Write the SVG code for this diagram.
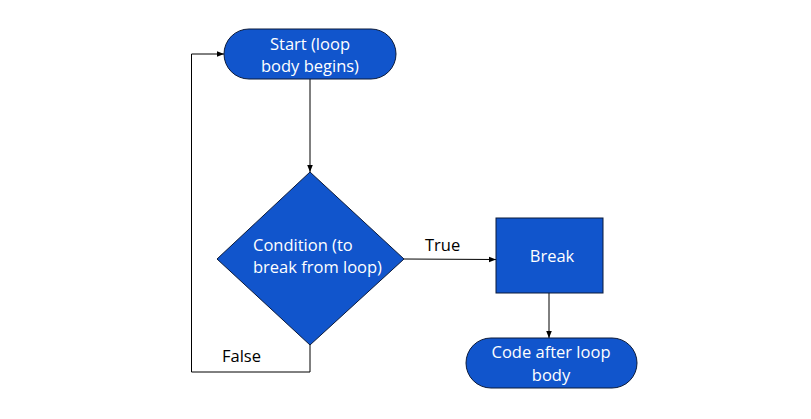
<svg xmlns="http://www.w3.org/2000/svg" width="811" height="419" viewBox="0 0 811 419">
<style>
.shape{fill:#1155cc;stroke:#0b1a3a;stroke-width:1}
.lbl{font-family:"Open Sans","Liberation Sans",sans-serif;font-size:16.5px;fill:#ffffff}
.edge{fill:none;stroke:#000000;stroke-width:1}
.elbl{font-family:"Open Sans","Liberation Sans",sans-serif;font-size:16.5px;fill:#000000}
</style>
<defs>
<marker id="arr" viewBox="0 0 10 10" refX="10" refY="5" markerWidth="7" markerHeight="7" orient="auto" markerUnits="userSpaceOnUse">
<path d="M0,1 L10,5 L0,9 Z" fill="#000000"/>
</marker>
</defs>
<rect width="811" height="419" fill="#ffffff"/>
<g id="connectors">
<path class="edge" d="M310,79 V172" marker-end="url(#arr)"/>
<path class="edge" d="M404,259 L496,259.5" marker-end="url(#arr)"/>
<path class="edge" d="M549,293 V338" marker-end="url(#arr)"/>
<path class="edge" d="M310,345 V372 H191.5 V54 H224" marker-end="url(#arr)"/>
<text class="elbl" x="425" y="251">True</text>
<text class="elbl" x="222" y="362">False</text>
</g>
<g id="start">
<rect class="shape" x="224" y="29" width="172" height="50" rx="25" ry="25"/>
<text class="lbl" x="310" y="50" text-anchor="middle">Start (loop</text>
<text class="lbl" x="310" y="72" text-anchor="middle">body begins)</text>
</g>
<g id="condition">
<polygon class="shape" points="310,172 404,259 310,345 217,259"/>
<text class="lbl" x="253" y="251">Condition (to</text>
<text class="lbl" x="253" y="273">break from loop)</text>
</g>
<g id="break">
<rect class="shape" x="496" y="218" width="107" height="75"/>
<text class="lbl" x="552" y="262" text-anchor="middle">Break</text>
</g>
<g id="after">
<rect class="shape" x="466" y="338" width="171" height="50" rx="25" ry="25"/>
<text class="lbl" x="551" y="358" text-anchor="middle">Code after loop</text>
<text class="lbl" x="551" y="381" text-anchor="middle">body</text>
</g>
</svg>
